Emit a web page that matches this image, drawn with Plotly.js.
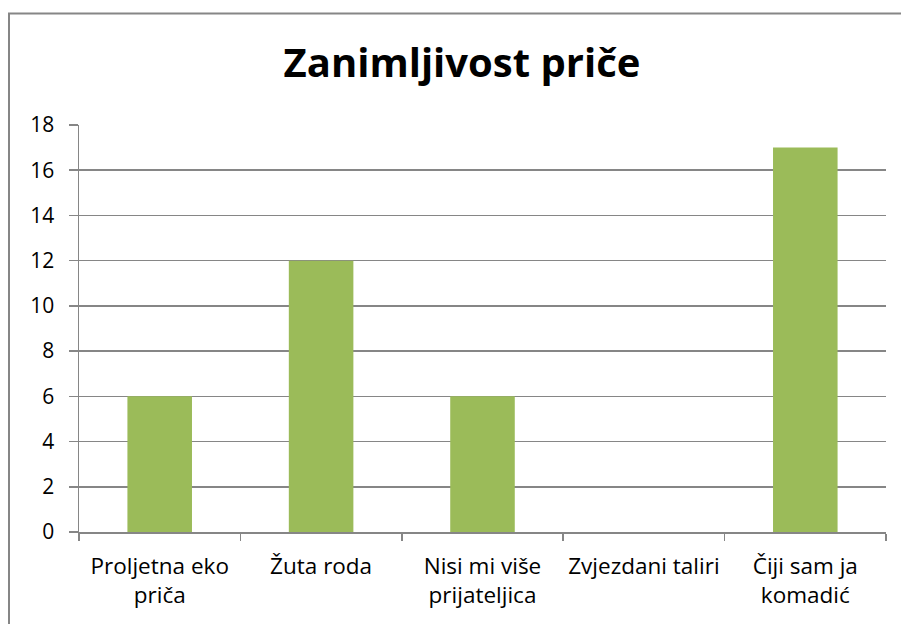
<!DOCTYPE html>
<html>
<head>
<meta charset="utf-8">
<script src="https://cdn.plot.ly/plotly-3.0.1.min.js"></script>
<style>
html,body{margin:0;padding:0;background:#fff;}
#chart{width:901px;height:624px;}
</style>
</head>
<body>
<div id="chart"></div>
<script>
const categories = ["Proljetna eko<br>priča", "Žuta roda", "Nisi mi više<br>prijateljica", "Zvjezdani taliri", "Čiji sam ja<br>komadić"];
const values = [6, 12, 6, 0, 17];
const yTicks = [0, 2, 4, 6, 8, 10, 12, 14, 16, 18];
const titleText = "Zanimljivost priče";

const gray = "#868686";
const font = "'Open Sans', Lato, sans-serif";

const W = 901, H = 624;
const L = 79, R = 886, T = 125, B = 532;

Plotly.newPlot("chart", [{
  type: "bar",
  x: categories,
  y: values,
  marker: {color: "#9BBB59"},
  width: 0.4,
  hoverinfo: "x+y"
}], {
  width: W, height: H,
  margin: {l: L, r: W - R, t: T, b: H - B, pad: 0},
  paper_bgcolor: "#fff",
  plot_bgcolor: "#fff",
  showlegend: false,
  title: {
    text: "<b>" + titleText + "</b>",
    font: {family: font, size: 40, color: "#000"},
    xref: "container", x: 462 / W, xanchor: "center",
    yref: "container", y: 1 - 63 / H, yanchor: "middle"
  },
  xaxis: {
    type: "category",
    showline: true, linecolor: gray, linewidth: 1.5,
    ticks: "outside", tickson: "boundaries", ticklen: 7, tickcolor: gray, tickwidth: 1.5,
    showgrid: false,
    tickfont: {family: font, size: 22.5, color: "#000"},
    ticklabelstandoff: 13,
    fixedrange: true
  },
  yaxis: {
    range: [0, 18],
    tickvals: yTicks,
    ticktext: yTicks.map(String),
    showline: true, linecolor: gray, linewidth: 1.5,
    ticks: "outside", ticklen: 9, tickcolor: gray, tickwidth: 1.5,
    showgrid: true, gridcolor: gray, gridwidth: 1.5,
    zeroline: false,
    tickfont: {family: font, size: 21, color: "#000"},
    ticklabelstandoff: 10,
    fixedrange: true
  },
  shapes: [{
    type: "rect", xref: "paper", yref: "paper",
    x0: (9 - L) / (R - L), x1: (W + 20 - L) / (R - L),
    y0: -(H + 20 - B) / (B - T), y1: (B - 13.5) / (B - T),
    line: {color: gray, width: 2}, fillcolor: "rgba(0,0,0,0)", layer: "below"
  }]
}, {staticPlot: true});
</script>
</body>
</html>
